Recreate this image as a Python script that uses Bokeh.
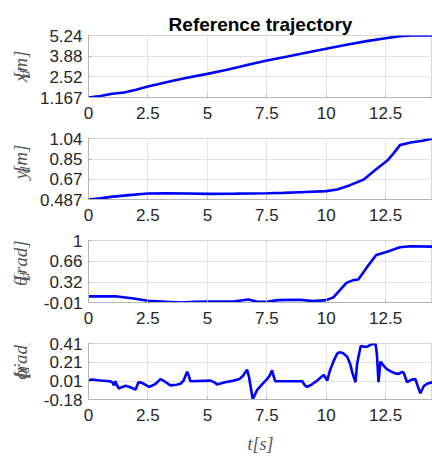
import math
from bokeh.plotting import figure
from bokeh.layouts import column, row
from bokeh.models import Range1d, FixedTicker
from bokeh.core.properties import value
from bokeh.embed import file_html
from bokeh.resources import INLINE

# ---------------- data ----------------
x_ticks = [0, 2.5, 5, 7.5, 10, 12.5]
x_tick_labels = ["0", "2.5", "5", "7.5", "10", "12.5"]
t_end = 14.47

t_x = [0, 0.5, 1.0, 1.5, 2.0, 2.5, 3.0, 3.5, 4.15, 5.0, 5.83, 6.67, 7.5, 8.37, 9.2, 10.0, 10.8, 11.7, 12.5, 13.1, 13.6, 14.47]
x_d = [1.167, 1.26, 1.41, 1.5, 1.68, 1.89, 2.07, 2.25, 2.46, 2.72, 2.99, 3.3, 3.6, 3.86, 4.12, 4.37, 4.62, 4.87, 5.06, 5.2, 5.24, 5.24]
x_yticks = [1.167, 2.52, 3.88, 5.24]
x_ylabels = ["1.167", "2.52", "3.88", "5.24"]

t_y = [0, 0.5, 0.94, 1.7, 2.5, 3.3, 4.2, 5.0, 6.2, 7.5, 8.2, 8.9, 10.0, 10.46, 11.0, 11.58, 12.14, 12.56, 12.85, 13.1, 13.55, 14.05, 14.47]
y_d = [0.487, 0.497, 0.511, 0.527, 0.541, 0.544, 0.541, 0.538, 0.54, 0.544, 0.547, 0.553, 0.563, 0.578, 0.617, 0.668, 0.768, 0.838, 0.91, 0.98, 1.004, 1.019, 1.04]
y_yticks = [0.487, 0.67, 0.85, 1.04]
y_ylabels = ["0.487", "0.67", "0.85", "1.04"]

t_th = [0, 1.2, 1.9, 2.5, 3.3, 3.9, 4.45, 5.0, 6.1, 6.73, 7.1, 7.5, 7.95, 8.9, 9.45, 10.0, 10.3, 10.85, 11.13, 11.35, 11.7, 12.1, 12.56, 13.1, 13.55, 14.47]
th_d = [0.089, 0.089, 0.056, 0.018, 0.001, -0.01, 0.001, 0.007, 0.007, 0.04, 0.001, 0.001, 0.029, 0.034, 0.012, 0.029, 0.073, 0.31, 0.354, 0.365, 0.558, 0.763, 0.818, 0.89, 0.906, 0.9]
th_yticks = [-0.01, 0.32, 0.66, 1]
th_ylabels = ["-0.01", "0.32", "0.66", "1"]

t_ph = [0, 0.15, 0.5, 0.9, 1.0, 1.07, 1.13, 1.2, 1.28, 1.45, 1.56, 1.7, 1.98, 2.1, 2.25, 2.55, 2.8, 3.03, 3.2, 3.45,
        3.7, 3.87, 4.0, 4.15, 4.22, 4.29, 5.13, 5.3, 5.41, 5.7, 6.11, 6.35, 6.5, 6.67, 6.75, 6.81, 6.91, 6.98, 7.09, 7.3,
        7.51, 7.62, 7.72, 7.78, 7.86, 8.99, 9.1, 9.2, 9.4, 9.62, 9.8, 9.9, 10.04, 10.15, 10.32, 10.45, 10.55, 10.7, 10.88,
        11.0, 11.1, 11.23, 11.3, 11.45, 11.6, 11.72, 11.9, 12.07, 12.13, 12.2, 12.28, 12.4, 12.55, 12.7, 12.9, 13.05, 13.2,
        13.26, 13.4, 13.6, 13.75, 13.85, 13.96, 14.1, 14.24, 14.47]
ph_d = [0.019, 0.03, 0.02, 0.012, 0.0, -0.03, 0.012, -0.03, -0.064, -0.045, -0.035, -0.045, -0.074, 0.002, -0.005, -0.047, -0.02, 0.035, 0.01, -0.031,
        -0.025, -0.014, 0.02, 0.112, 0.07, 0.012, 0.019, 0.0, -0.021, 0.0, 0.019, 0.035, 0.07, 0.135, 0.06, -0.03, -0.18, -0.14, -0.081, -0.02,
        0.035, 0.07, 0.128, 0.07, 0.012, 0.012, -0.03, -0.047, -0.02, 0.019, 0.06, 0.079, 0.019, 0.12, 0.23, 0.3, 0.317, 0.31, 0.27,
        0.2, 0.1, 0.002, 0.2, 0.384, 0.375, 0.377, 0.4, 0.41, 0.3, 0.002, 0.22, 0.18, 0.14, 0.118, 0.095, 0.09, 0.112,
        0.1, 0.002, 0.03, 0.035, -0.04, -0.114, -0.04, -0.014, 0.002]
ph_yticks = [-0.18, 0.01, 0.21, 0.41]
ph_ylabels = ["-0.18", "0.01", "0.21", "0.41"]

# ---------------- style ----------------
TICK_FONT = "Liberation Sans"
LABEL_FONT = "Liberation Serif"
LINE_COLOR = "#0000ff"
AXIS_GRAY = "#b4b4b4"
GRID_GRAY = "#e3e3e3"
TXT = "#262626"
LBL = "#555555"
LW = 36          # width of the y-label strip
LEFT = 88        # frame left edge in page pixels
FW = 432 - LEFT  # frame width
GAP = 1.0        # spacing between label pieces


def label_strip(parts, top, frame_h, height, fs=19):
    """Narrow strip carrying the rotated LaTeX-like y-axis label (pieces centred one after another)."""
    q = figure(width=LW, height=height, output_backend="svg", toolbar_location=None,
               x_range=Range1d(0, LW), y_range=Range1d(0, height),
               min_border=0, x_axis_type=None, y_axis_type=None)
    q.grid.visible = False
    q.outline_line_color = None
    q.background_fill_color = "white"
    q.border_fill_color = "white"
    total = sum(w * (fs * 0.7 if sub else fs) for _, sub, w in parts) + GAP * (len(parts) - 1)
    y = height - (top + frame_h / 2) - total / 2 - 4
    for txt, sub, w in parts:
        size = fs * 0.7 if sub else fs
        q.text(x=[24 if sub else 19.5], y=[y + w * size / 2], text=[txt], angle=math.pi / 2,
               text_font=value(LABEL_FONT), text_font_style="italic",
               text_font_size=value(f"{size:.1f}px"), text_color=LBL,
               text_align="center", text_baseline="middle")
        y += w * size + GAP
    return q


def panel(t, v, ylo, yhi, yticks, ylabs, frame_h, top, bottom, parts, title=None, xlabel=None):
    height = top + frame_h + bottom
    p = figure(width=LEFT - LW + FW, height=height, output_backend="svg", toolbar_location=None,
               x_range=Range1d(0, t_end), y_range=Range1d(ylo, yhi),
               min_border_left=LEFT - LW, min_border_right=0, min_border_top=top, min_border_bottom=bottom)
    p.line(t, v, line_color=LINE_COLOR, line_width=2.6)
    p.background_fill_color = "white"
    p.border_fill_color = "white"
    p.outline_line_color = "#d6d6d6"
    if title:
        p.title.text = title
        p.title.align = "center"
        p.title.text_font = TICK_FONT
        p.title.text_font_size = "19px"
        p.title.text_font_style = "bold"
        p.title.text_color = "black"
        p.title.standoff = 2
    p.xaxis.ticker = FixedTicker(ticks=x_ticks)
    p.xaxis.major_label_overrides = {k: s for k, s in zip(x_ticks, x_tick_labels)}
    p.yaxis.ticker = FixedTicker(ticks=yticks)
    p.yaxis.major_label_overrides = {k: s for k, s in zip(yticks, ylabs)}
    for ax in (p.xaxis[0], p.yaxis[0]):
        ax.axis_line_color = AXIS_GRAY
        ax.major_tick_line_color = AXIS_GRAY
        ax.major_tick_in = 3
        ax.major_tick_out = 0
        ax.minor_tick_line_color = None
        ax.major_label_text_font = TICK_FONT
        ax.major_label_text_font_size = "17px"
        ax.major_label_text_color = TXT
    p.xaxis.major_label_standoff = 9
    p.yaxis.major_label_standoff = 6
    p.xgrid.ticker = FixedTicker(ticks=x_ticks)
    p.ygrid.ticker = FixedTicker(ticks=yticks)
    p.grid.grid_line_color = GRID_GRAY
    p.grid.grid_line_width = 1
    if xlabel:
        p.xaxis.axis_label = xlabel
        p.xaxis.axis_label_text_font = LABEL_FONT
        p.xaxis.axis_label_text_font_style = "italic"
        p.xaxis.axis_label_text_font_size = "18px"
        p.xaxis.axis_label_text_color = LBL
        p.xaxis.axis_label_standoff = 10
    strip = label_strip(parts, top, frame_h, height)
    return row(strip, p, spacing=0)


r1 = panel(t_x, x_d, 1.167, 5.24, x_yticks, x_ylabels, 62, 35, 33,
           [("x", False, 0.444), ("d", True, 0.5), ("[m]", False, 1.5)], title="Reference trajectory")
r2 = panel(t_y, y_d, 0.487, 1.04, y_yticks, y_ylabels, 61, 8, 33,
           [("y", False, 0.444), ("d", True, 0.5), ("[m]", False, 1.5)])
r3 = panel(t_th, th_d, -0.01, 1.0, th_yticks, th_ylabels, 62, 8, 33,
           [("θ", False, 0.5), ("d", True, 0.5), ("[rad]", False, 2.167)])
r4 = panel(t_ph, ph_d, -0.18, 0.41, ph_yticks, ph_ylabels, 60, 8, 53,
           [("ϕ̇", False, 0.6), ("d", True, 0.5), ("[rad]", False, 2.167)], xlabel="t[s]")

layout = column(r1, r2, r3, r4, spacing=0)
open("out.html", "w").write(file_html(layout, INLINE))
